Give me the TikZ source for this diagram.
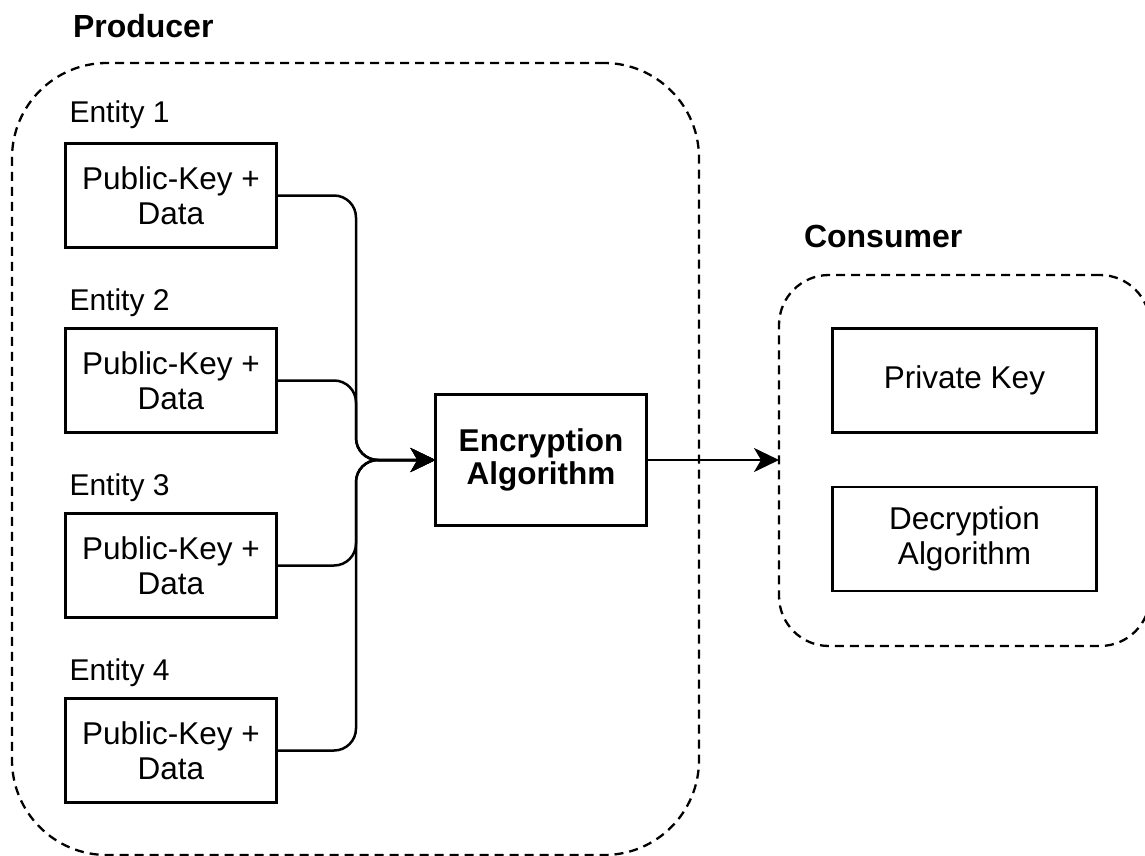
\documentclass[tikz,border=0pt]{standalone}
\usepackage{fontspec}
\setmainfont{Liberation Sans}
\usetikzlibrary{arrows.meta}
\begin{document}
\begin{tikzpicture}[x=1pt,y=-1pt,
  every node/.style={inner sep=0pt, outer sep=0pt},
  txt/.style={font=\fontsize{31.5}{35}\selectfont},
  lbltxt/.style={font=\fontsize{30}{35}\selectfont},
  boldtxt/.style={font=\fontsize{31.5}{33}\selectfont\bfseries},
  box/.style={draw, line width=2.5pt, rectangle, align=center, txt},
  lbl/.style={anchor=base west, lbltxt},
  grouplbl/.style={anchor=base west, font=\fontsize{32}{35}\selectfont\bfseries},
  groupbox/.style={draw, line width=2.3pt, dash pattern=on 9pt off 6pt, rectangle},
  tip/.style={-{Stealth[length=25pt,width=24pt,inset=7pt]}},
  conn/.style={line width=2.5pt, rounded corners=22pt, tip}]
  \useasboundingbox (0,0) rectangle (1145,856);

  % groups
  \node[groupbox, rounded corners=95pt, minimum width=687pt, minimum height=792pt] (prod) at (355.5,459) {};
  \node[groupbox, rounded corners=50pt, minimum width=371pt, minimum height=371pt] (cons) at (964.5,460.5) {};
  \node[grouplbl] (prodlbl) at (73,38) {Producer};
  \node[grouplbl] (conslbl) at (804,247) {Consumer};

  % entities
  \node[box, minimum width=211pt, minimum height=104pt] (e1) at (171,195.5) {Public-Key +\\Data};
  \node[box, minimum width=211pt, minimum height=104pt] (e2) at (171,380.5) {Public-Key +\\Data};
  \node[box, minimum width=211pt, minimum height=104pt] (e3) at (171,565.5) {Public-Key +\\Data};
  \node[box, minimum width=211pt, minimum height=104pt] (e4) at (171,750.5) {Public-Key +\\Data};
  \node[lbl] (l1) at (69.5,123) {Entity 1};
  \node[lbl] (l2) at (69.5,310) {Entity 2};
  \node[lbl] (l3) at (69.5,495) {Entity 3};
  \node[lbl] (l4) at (69.5,680) {Entity 4};

  % encryption
  \node[box, boldtxt, minimum width=211pt, minimum height=131pt] (enc) at (541,460) {Encryption\\Algorithm};

  % consumer boxes
  \node[box, minimum width=264pt, minimum height=104pt] (pk) at (964.5,380.5) {Private Key};
  \node[box, minimum width=264pt, minimum height=104pt] (dec) at (964.5,539) {Decryption\\Algorithm};

  % connectors
  \coordinate (j) at (356,460);
  \draw[conn] (e1.east) -| (j) -- (enc.west);
  \draw[conn] (e2.east) -| (j) -- (enc.west);
  \draw[conn] (e3.east) -| (j) -- (enc.west);
  \draw[conn] (e4.east) -| (j) -- (enc.west);
  \draw[line width=2.5pt, tip] (enc.east) -- (enc.east -| cons.west);
\end{tikzpicture}
\end{document}
